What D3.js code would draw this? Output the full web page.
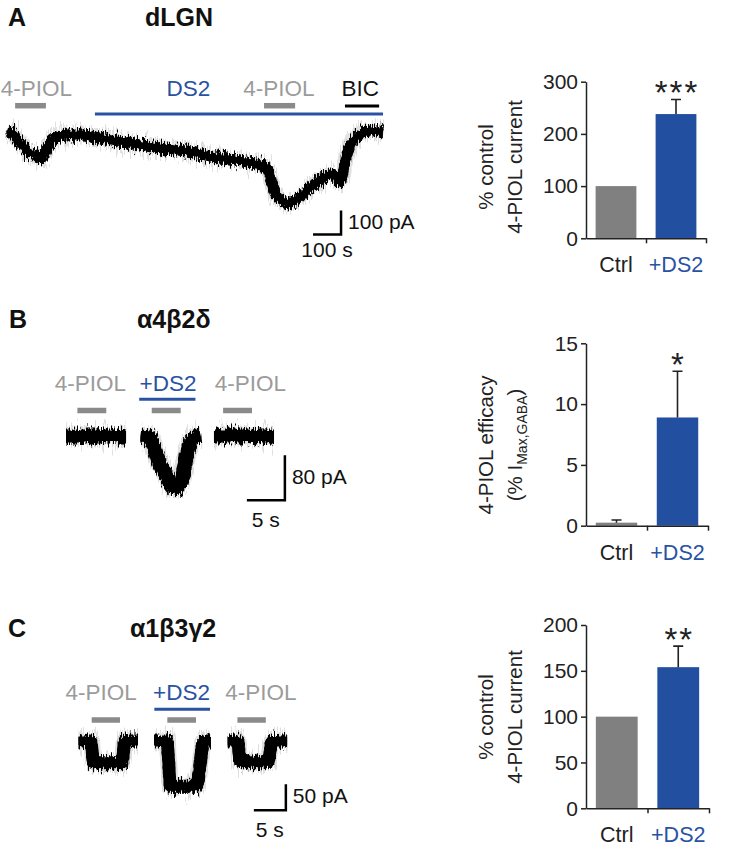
<!DOCTYPE html>
<html>
<head>
<meta charset="utf-8">
<script src="https://cdn.jsdelivr.net/npm/d3@7"></script>
<style>
  body { margin: 0; background: #fff; }
  svg text { font-family: "Liberation Sans", Arial, Helvetica, sans-serif; }
</style>
</head>
<body>
<div id="wrapper"></div>
<script>
// ---------- data ----------
// panel A, dLGN recording: [time s, current pA]
const traceA = [[0,0],[21,-12],[46,-50],[71,-83],[100,-100],[118,-117],[132,-100],[154,-46],[179,-25],
  [214,-17],[271,-17],[332,-29],[450,-54],[571,-75],[664,-88],[725,-108],[796,-117],[893,-138],
  [921,-146],[939,-183],[957,-258],[986,-292],[1011,-300],[1046,-275],[1082,-238],[1118,-204],
  [1154,-183],[1179,-192],[1189,-213],[1207,-133],[1225,-58],[1250,-25],[1286,0],[1321,0],[1343,-4]];
const appsA = [
  { label: "4-PIOL", kind: "drug",  start: 29,   end: 139,  labelAt: 105 },
  { label: "DS2",    kind: "mod",   start: 314,  end: 1343, labelAt: 648 },
  { label: "4-PIOL", kind: "drug",  start: 918,  end: 1029, labelAt: 971 },
  { label: "BIC",    kind: "block", start: 1207, end: 1329, labelAt: 1262 }
];
const scaleBarA = { dt: 100, dI: 100, tUnit: "s", iUnit: "pA", corner: [1193, -431] };

// panel B, α4β2δ: three sweeps, time relative to sweep start
const sweepStartB = [0, 9.83, 19.47];
const sweepsB = [
  [[0,0],[7.9,0]],
  [[0,0],[1.2,-2],[1.66,-18],[2.54,-50],[3.42,-74],[4.5,-92],[5.3,-82],[6.05,-34],[6.71,-7],[7.9,0]],
  [[0,0],[7.9,0]]
];
const pulsesB = [[1.5,5.3],[1.45,5.26],[1.2,5.0]];
const ds2B = [-0.2, 7.2];
const labelsB = [
  { label: "4-PIOL", kind: "drug", at: 3.22 },
  { label: "+DS2",   kind: "mod",  at: 13.42 },
  { label: "4-PIOL", kind: "drug", at: 24.25 }
];
const scaleBarB = { dt: 5, dI: 80, tUnit: "s", iUnit: "pA", corner: [28.8, -114] };

// panel C, α1β3γ2
const sweepStartC = [0, 11.8, 23.3];
const sweepsC = [
  [[0,0],[1.95,0],[2.35,-42],[6.8,-42],[7.25,0],[9.3,0]],
  [[0,0],[2.0,0],[2.6,-87],[6.65,-87],[7.05,-60],[7.75,0],[8.9,0]],
  [[0,0],[1.55,0],[1.95,-40],[6.3,-40],[6.95,0],[9.3,0]]
];
const pulsesC = [[2.06,6.48],[2.08,6.56],[1.53,5.97]];
const ds2C = [0.05, 8.75];
const labelsC = [
  { label: "4-PIOL", kind: "drug", at: 3.52 },
  { label: "+DS2",   kind: "mod",  at: 16.1 },
  { label: "4-PIOL", kind: "drug", at: 28.5 }
];
const scaleBarC = { dt: 5, dI: 50, tUnit: "s", iUnit: "pA", corner: [32.4, -133] };

// bar charts
const categories = ["Ctrl", "+DS2"];
const barsA = [100, 238], errA = [0, 28],    starsA = "***", ticksA = [0, 100, 200, 300];
const barsB = [0.25, 8.9], errB = [0.22, 3.8], starsB = "*",  ticksB = [0, 5, 10, 15];
const barsC = [100, 154], errC = [0, 23],    starsC = "**",  ticksC = [0, 50, 100, 150, 200];

// ---------- styles ----------
const col = { gray: "#8a8a8a", grayText: "#9b9b9b", blue: "#2a52a3", barGray: "#808080", barBlue: "#234fa1", ink: "#111" };

const svg = d3.select("#wrapper").append("svg")
  .attr("width", 732).attr("height", 853);

// noise texture for the recordings: vertical-only displacement
const defs = svg.append("defs");
function fuzz(id, freq, scale, seed) {
  const f = defs.append("filter").attr("id", id)
    .attr("filterUnits", "userSpaceOnUse").attr("color-interpolation-filters", "sRGB")
    .attr("x", 0).attr("y", 0).attr("width", 732).attr("height", 853);
  f.append("feTurbulence").attr("type", "fractalNoise")
    .attr("baseFrequency", freq).attr("numOctaves", 2).attr("seed", seed).attr("result", "t");
  f.append("feColorMatrix").attr("in", "t").attr("type", "matrix")
    .attr("values", "1 0 0 0 0  0 0 0 0 0.5  0 0 0 0 0  0 0 0 0 1").attr("result", "t2");
  f.append("feDisplacementMap").attr("in", "SourceGraphic").attr("in2", "t2")
    .attr("scale", scale).attr("xChannelSelector", "G").attr("yChannelSelector", "R");
}
fuzz("fuzz", "1.3 0.15", 16, 4);
fuzz("halo", "1.6 0.08", 30, 9);

function title(x, y, letter, tx, name) {
  svg.append("text").attr("x", x).attr("y", y).attr("font-size", 25).attr("font-weight", "bold")
    .attr("fill", col.ink).text(letter);
  svg.append("text").attr("x", tx).attr("y", y).attr("font-size", 25).attr("font-weight", "bold")
    .attr("fill", col.ink).text(name);
}

function drawTrace(points, xs, ys, band) {
  const line = d3.line().x(d => xs(d[0])).y(d => ys(d[1])).curve(d3.curveMonotoneX);
  const d = line(points);
  svg.append("path").attr("d", d).attr("fill", "none")
    .attr("stroke", "#000").attr("stroke-opacity", 0.12).attr("stroke-width", band + 4)
    .attr("filter", "url(#halo)");
  svg.append("path").attr("d", d).attr("fill", "none")
    .attr("stroke", "#000").attr("stroke-width", band)
    .attr("stroke-linejoin", "round").attr("filter", "url(#fuzz)");
  svg.append("path").attr("d", d).attr("fill", "none")
    .attr("stroke", "#000").attr("stroke-width", band - 5).attr("stroke-linejoin", "round");
}

function hbar(xa, xb, y, color, w) {
  svg.append("line").attr("x1", xa).attr("x2", xb).attr("y1", y).attr("y2", y)
    .attr("stroke", color).attr("stroke-width", w);
}

function label(x, y, txt, kind) {
  const c = kind === "mod" ? col.blue : kind === "block" ? col.ink : col.grayText;
  svg.append("text").attr("x", x).attr("y", y).attr("text-anchor", "middle")
    .attr("font-size", 22.5).attr("fill", c).text(txt);
}

function scaleBar(sb, xs, ys, pAdy, sdy) {
  const cx = xs(sb.corner[0]), cy = ys(sb.corner[1]);
  const lx = xs(sb.corner[0] - sb.dt), ty = ys(sb.corner[1] + sb.dI);
  svg.append("path").attr("d", `M${lx},${cy}H${cx}V${ty}`).attr("fill", "none")
    .attr("stroke", "#000").attr("stroke-width", 2.5);
  svg.append("text").attr("x", cx + 7).attr("y", (cy + ty) / 2 + pAdy).attr("font-size", 21)
    .attr("fill", col.ink).text(`${sb.dI} ${sb.iUnit}`);
  svg.append("text").attr("x", (cx + lx) / 2).attr("y", cy + sdy).attr("text-anchor", "middle")
    .attr("font-size", 21).attr("fill", col.ink).text(`${sb.dt} ${sb.tUnit}`);
}

// ---------- panel A traces ----------
title(8, 26, "A", 145, "dLGN");
{
  const xs = d3.scaleLinear().domain([0, 100]).range([7, 35]);
  const ys = d3.scaleLinear().domain([0, -100]).range([131, 155]);
  const lay = { labelY: 96, drug: 105.7, mod: 114, block: 106 };
  appsA.forEach(a => {
    if (a.kind === "drug") hbar(xs(a.start), xs(a.end), lay.drug, col.gray, 5.5);
    if (a.kind === "mod") hbar(xs(a.start), xs(a.end), lay.mod, col.blue, 3);
    if (a.kind === "block") hbar(xs(a.start), xs(a.end), lay.block, "#000", 3);
    label(xs(a.labelAt), lay.labelY, a.label, a.kind);
  });
  drawTrace(traceA, xs, ys, 11);
  scaleBar(scaleBarA, xs, ys, 7, 23);
}

// ---------- panels B and C traces ----------
function sweepPanel(starts, sweeps, pulses, ds2, labels, sb, lay) {
  const xs = d3.scaleLinear().domain([0, 1]).range([lay.x0, lay.x0 + lay.pxs]);
  const ys = d3.scaleLinear().domain([0, -10]).range([lay.y0, lay.y0 + 10 * lay.pxa]);
  labels.forEach(l => label(xs(l.at), lay.labelY, l.label, l.kind));
  hbar(xs(starts[1] + ds2[0]), xs(starts[1] + ds2[1]), lay.mod, col.blue, 3);
  pulses.forEach((p, i) => hbar(xs(starts[i] + p[0]), xs(starts[i] + p[1]), lay.drug, col.gray, 5.5));
  sweeps.forEach((s, i) => {
    const shifted = s.map(d => [d[0] + starts[i], d[1]]);
    drawTrace(shifted, xs, ys, lay.band);
  });
  scaleBar(sb, xs, ys, 6, 27);
}

title(9, 328, "B", 137, "α4β2δ");
sweepPanel(sweepStartB, sweepsB, pulsesB, ds2B, labelsB, scaleBarB,
  { x0: 66, pxs: 7.6, y0: 436, pxa: 0.5625, labelY: 390.7, drug: 410.5, mod: 399.3, band: 15 });

title(8, 637, "C", 130, "α1β3γ2");
sweepPanel(sweepStartC, sweepsC, pulsesC, ds2C, labelsC, scaleBarC,
  { x0: 78.5, pxs: 6.4, y0: 741, pxa: 0.52, labelY: 700, drug: 720, mod: 709.3, band: 13 });

// ---------- bar charts ----------
function barChart(vals, errs, stars, ticks, yLabel, lay) {
  const y = d3.scaleLinear().domain([ticks[0], ticks[ticks.length - 1]]).range([lay.yBot, lay.yTop]);
  const x = d3.scaleBand().domain(categories).range([lay.x0, lay.x1]).paddingInner(0.32).paddingOuter(0.16);
  const g = svg.append("g");

  g.selectAll("rect").data(vals).join("rect")
    .attr("x", (d, i) => x(categories[i])).attr("width", x.bandwidth())
    .attr("y", d => y(d)).attr("height", d => y(0) - y(d))
    .attr("fill", (d, i) => i ? col.barBlue : col.barGray);

  vals.forEach((v, i) => {
    if (!errs[i]) return;
    const cx = x(categories[i]) + x.bandwidth() / 2;
    g.append("path").attr("d", `M${cx},${y(v)}V${y(v + errs[i])}M${cx - 5},${y(v + errs[i])}H${cx + 5}`)
      .attr("stroke", "#222").attr("stroke-width", 1.6).attr("fill", "none");
  });
  const sx = x(categories[1]) + x.bandwidth() / 2;
  g.append("text").attr("x", sx + 1).attr("y", y(vals[1] + errs[1]) + 5)
    .attr("text-anchor", "middle").attr("font-size", 33).attr("letter-spacing", 2)
    .attr("fill", "#222").text(stars);

  const ya = g.append("g").attr("transform", `translate(${lay.x0},0)`)
    .call(d3.axisLeft(y).tickValues(ticks).tickSize(5).tickSizeOuter(0).tickPadding(3));
  const xl = d3.scaleLinear().domain([0, 2]).range([lay.x0, lay.x1]);
  const xa = g.append("g").attr("transform", `translate(0,${lay.yBot})`)
    .call(d3.axisBottom(xl).tickValues([1, 2]).tickSize(5).tickSizeOuter(0).tickFormat(""));
  [ya, xa].forEach(a => {
    a.selectAll("path, line").attr("stroke", "#222").attr("stroke-width", 1.5);
    a.selectAll("text").attr("font-size", 21).attr("fill", "#222")
      .style("font-family", '"Liberation Sans", Arial, sans-serif');
  });

  categories.forEach((c, i) => {
    g.append("text").attr("x", x(c) + x.bandwidth() / 2).attr("y", lay.yBot + 34)
      .attr("text-anchor", "middle").attr("font-size", 21.5)
      .attr("fill", i ? col.blue : "#222").text(c);
  });

  yLabel.forEach((ln, i) => {
    const t = g.append("text")
      .attr("transform", `translate(${[493, 522][i]},${lay.labelCY}) rotate(-90)`)
      .attr("text-anchor", "middle").attr("font-size", 20.5).attr("fill", "#222");
    if (typeof ln === "string") t.text(ln);
    else {
      t.append("tspan").text(ln[0]);
      t.append("tspan").attr("font-size", 14).attr("dy", 5).text(ln[1]);
      t.append("tspan").attr("dy", -5).text(ln[2]);
    }
  });
}

barChart(barsA, errA, starsA, ticksA, ["% control", "4-PIOL current"],
  { x0: 586, x1: 706, yTop: 81.7, yBot: 238.3, labelCY: 167 });
barChart(barsB, errB, starsB, ticksB, ["4-PIOL efficacy", ["(% I", "Max,GABA", ")"]],
  { x0: 586, x1: 708, yTop: 343.3, yBot: 525.7, labelCY: 445 });
barChart(barsC, errC, starsC, ticksC, ["% control", "4-PIOL current"],
  { x0: 586, x1: 709, yTop: 625, yBot: 808.3, labelCY: 717 });
</script>
</body>
</html>
